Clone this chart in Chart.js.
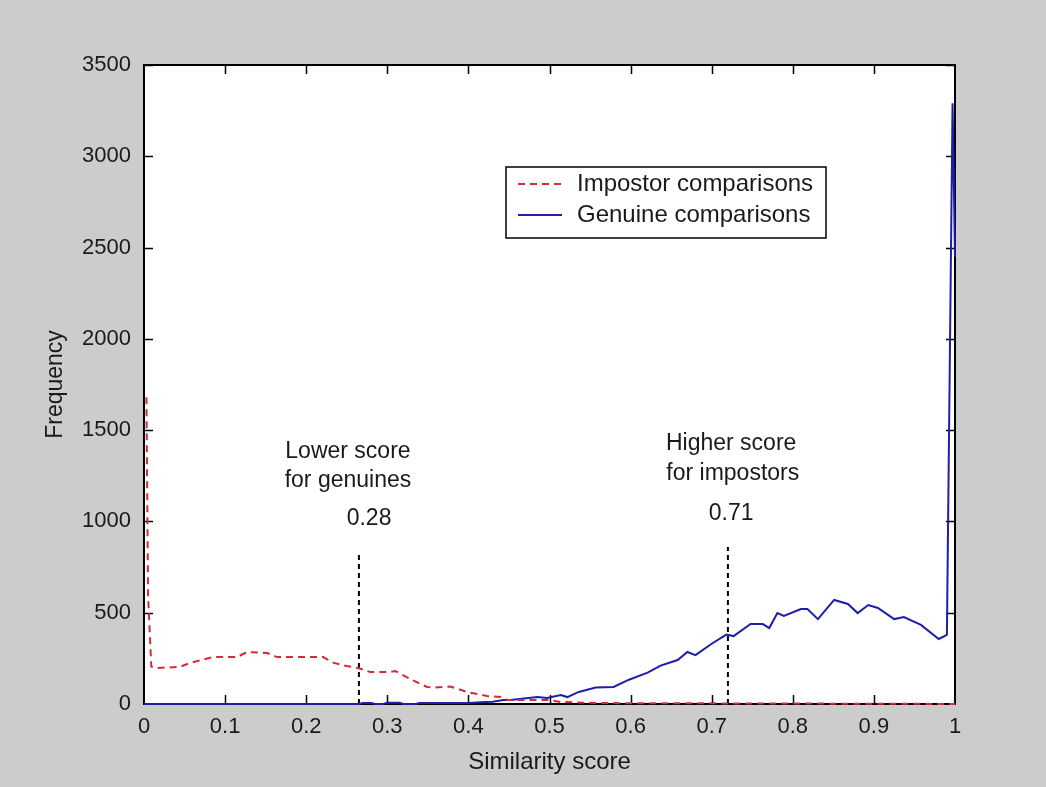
<!DOCTYPE html>
<html><head><meta charset="utf-8">
<script src="https://cdn.jsdelivr.net/npm/chart.js@4"></script>
<style>html,body{margin:0;padding:0;background:#cccccc;} #wrap{width:1046px;height:787px;position:relative}</style>
</head><body><div id="wrap"><canvas id="c" width="1046" height="787"></canvas></div>
<script>
// ---- data ----
const impostorScore = [0.003, 0.005, 0.009, 0.013, 0.044, 0.057, 0.085, 0.115, 0.127, 0.152, 0.164, 0.221, 0.234, 0.25, 0.264, 0.279, 0.303, 0.31, 0.331, 0.349, 0.357, 0.378, 0.398, 0.423, 0.44, 0.448, 0.5, 0.514, 0.563, 0.65, 0.75, 0.85, 0.95, 1.0];
const impostorFreq  = [1680, 600, 205, 197, 203, 225, 257, 257, 285, 279, 257, 257, 225, 208, 197, 175, 175, 180, 131, 93, 90, 96, 66, 44, 38, 22, 22, 11, 5, 4, 3, 2, 1, 0];

const genuineScore = [0, 0.265, 0.27, 0.28, 0.285, 0.295, 0.3, 0.315, 0.32, 0.335, 0.34, 0.40, 0.415, 0.43, 0.443, 0.452, 0.485, 0.497, 0.514, 0.522, 0.536, 0.557, 0.579, 0.598, 0.621, 0.637, 0.658, 0.670, 0.680, 0.700, 0.718, 0.727, 0.748, 0.763, 0.771, 0.781, 0.789, 0.81, 0.818, 0.831, 0.851, 0.868, 0.880, 0.893, 0.905, 0.925, 0.937, 0.958, 0.980, 0.990, 0.997, 1.0];
const genuineFreq  = [0, 0, 6, 6, 0, 0, 7, 7, 0, 0, 6, 6, 9, 12, 22, 22, 38, 33, 49, 38, 66, 90, 93, 133, 172, 210, 241, 285, 268, 330, 380, 372, 438, 438, 416, 498, 482, 520, 520, 465, 570, 548, 498, 542, 526, 465, 476, 433, 356, 378, 3290, 2450];

const thresholdScore = [0.265, 0.72];
const thresholdTop   = [820, 860];

const seriesNames = ['Impostor comparisons', 'Genuine comparisons'];
const annotationText = [['Lower score', 'for genuines', '0.28'], ['Higher score', 'for impostors', '0.71']];

// ---- presentation ----
const annotationPos = [[[0.2515, 1380], [0.2515, 1221], [0.2775, 1013]], [[0.724, 1424], [0.726, 1260], [0.724, 1041]]];
const FONT = '"Liberation Sans", Arial, Helvetica, sans-serif';
const TXT = '#1a1a1a';
const RED = '#d42a3a';
const BLUE = '#1e1ea8';
const toPts = (xs, ys) => xs.map((x, i) => ({x, y: ys[i]}));

const thresholdSets = thresholdScore.map((s, i) => ({
  label: 'threshold' + i,
  data: [{x: s, y: 0}, {x: s, y: thresholdTop[i]}],
  borderColor: '#000', borderWidth: 2, borderDash: [5, 4], pointRadius: 0
}));

const frame = {
  id: 'frame',
  beforeDraw(chart) {
    const {ctx, chartArea: a} = chart;
    ctx.save();
    ctx.fillStyle = '#cccccc';
    ctx.fillRect(0, 0, chart.width, chart.height);
    ctx.fillStyle = '#ffffff';
    ctx.fillRect(a.left, a.top, a.right - a.left, a.bottom - a.top);
    ctx.restore();
  },
  beforeDatasetsDraw(chart) {
    const {ctx, chartArea: a, scales} = chart;
    ctx.save();
    ctx.strokeStyle = '#000';
    ctx.lineWidth = 2;
    ctx.strokeRect(a.left, a.top, a.right - a.left, a.bottom - a.top);
    const L = 9;
    ctx.lineWidth = 1.5;
    ctx.beginPath();
    scales.x.ticks.forEach(t => {
      const px = Math.round(scales.x.getPixelForValue(t.value)) + 0.5;
      if (px <= a.left + 1 || px >= a.right - 1) return;
      ctx.moveTo(px, a.bottom); ctx.lineTo(px, a.bottom - L);
      ctx.moveTo(px, a.top); ctx.lineTo(px, a.top + L);
    });
    scales.y.ticks.forEach(t => {
      const py = Math.round(scales.y.getPixelForValue(t.value)) + 0.5;
      if (py >= a.bottom - 1) return;
      ctx.moveTo(a.left, py); ctx.lineTo(a.left + L, py);
      ctx.moveTo(a.right, py); ctx.lineTo(a.right - L, py);
    });
    ctx.stroke();
    ctx.restore();
  },
  afterDraw(chart) {
    const {ctx, scales} = chart;
    ctx.save();
    // annotations
    ctx.fillStyle = TXT;
    ctx.font = '23px ' + FONT;
    ctx.textAlign = 'center';
    ctx.textBaseline = 'middle';
    annotationText.forEach((lines, i) => {
      lines.forEach((s, j) => {
        const p = annotationPos[i][j];
        ctx.fillText(s, scales.x.getPixelForValue(p[0]), scales.y.getPixelForValue(p[1]));
      });
    });
    // legend
    const lx = 506, ly = 167, lw = 320, lh = 71;
    ctx.fillStyle = '#fff';
    ctx.fillRect(lx, ly, lw, lh);
    ctx.strokeStyle = '#000';
    ctx.lineWidth = 1.5;
    ctx.strokeRect(lx, ly, lw, lh);
    const rows = [184, 215];
    ctx.textAlign = 'left';
    ctx.font = '24px ' + FONT;
    [0, 1].forEach(k => {
      const ds = chart.data.datasets[k];
      ctx.strokeStyle = ds.borderColor;
      ctx.lineWidth = ds.borderWidth;
      ctx.setLineDash(ds.borderDash || []);
      ctx.beginPath();
      ctx.moveTo(518, rows[k]); ctx.lineTo(562, rows[k]);
      ctx.stroke();
      ctx.setLineDash([]);
      ctx.fillStyle = TXT;
      ctx.fillText(ds.label, 577, rows[k]);
    });
    ctx.restore();
  }
};

new Chart(document.getElementById('c'), {
  type: 'line',
  data: {
    datasets: [
      {label: seriesNames[0], data: toPts(impostorScore, impostorFreq), borderColor: RED, borderWidth: 2, borderDash: [7, 5], pointRadius: 0, tension: 0, clip: 3},
      {label: seriesNames[1], data: toPts(genuineScore, genuineFreq), borderColor: BLUE, borderWidth: 2, pointRadius: 0, tension: 0, clip: 3},
      ...thresholdSets
    ]
  },
  options: {
    responsive: false,
    animation: false,
    devicePixelRatio: 1,
    layout: {padding: {left: 0, top: 65, right: 91, bottom: 0}},
    plugins: {legend: {display: false}, tooltip: {enabled: false}},
    scales: {
      x: {
        type: 'linear', min: 0, max: 1,
        ticks: {stepSize: 0.1, autoSkip: false, maxRotation: 0, padding: 10, color: TXT,
          font: {family: FONT, size: 22}, callback: v => String(Math.round(v * 10) / 10)},
        grid: {display: false, drawTicks: false},
        border: {display: false},
        title: {display: true, text: 'Similarity score', color: TXT, font: {family: FONT, size: 24}, padding: {top: 0, bottom: 10}},
        afterFit(s) { s.height = 83; }
      },
      y: {
        type: 'linear', min: 0, max: 3500,
        ticks: {stepSize: 500, autoSkip: false, padding: 13, color: TXT, font: {family: FONT, size: 22},
          callback: v => String(v)},
        grid: {display: false, drawTicks: false},
        border: {display: false},
        title: {display: true, text: 'Frequency', color: TXT, font: {family: FONT, size: 23}, padding: {top: 42, bottom: 0}},
        afterFit(s) { s.width = 144; }
      }
    }
  },
  plugins: [frame]
});
</script></body></html>
